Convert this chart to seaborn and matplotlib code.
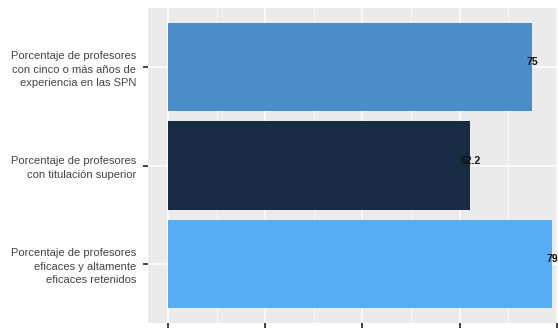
import matplotlib
matplotlib.use("Agg")
import matplotlib.pyplot as plt
import seaborn as sns
import pandas as pd

# data
categorias = [
    "Porcentaje de profesores\ncon cinco o más años de\nexperiencia en las SPN",
    "Porcentaje de profesores\ncon titulación superior",
    "Porcentaje de profesores\neficaces y altamente\neficaces retenidos",
]
valores = [75, 62.2, 79]
colores = ["#4a8dc8", "#172b42", "#55aef2"]

df = pd.DataFrame({"indicador": categorias, "valor": valores})

sns.set_theme(style="darkgrid")
plt.rcParams["font.family"] = ["Liberation Sans", "DejaVu Sans"]

fig = plt.figure(figsize=(5.58, 3.31), dpi=100)
ax = fig.add_axes([148 / 558, 8 / 331, 1 - 148 / 558, 315 / 331])
ax.set_facecolor("#ebebeb")

sns.barplot(data=df, x="valor", y="indicador", hue="indicador",
            palette=colores, orient="h", width=0.9, legend=False,
            saturation=1, linewidth=0, ax=ax, zorder=2)

# value labels centred on the bar end
for i, v in enumerate(valores):
    ax.text(v, i - 0.05, f"{v:g}", ha="center", va="center",
            fontsize=7.5, fontweight="bold", color="#111111", zorder=3)

ax.set_xlim(-4.1, 80.25)
ax.set_ylim(2.6, -0.6)
ax.set_xticks([0, 20, 40, 60, 80])
ax.set_xticks([10, 30, 50, 70], minor=True)
ax.set_xticklabels([])
ax.grid(which="major", color="white", linewidth=1.1, zorder=0)
ax.grid(which="minor", axis="x", color="white", linewidth=0.5, zorder=0)
ax.set_axisbelow(True)
ax.tick_params(axis="both", which="major", length=3.5, width=1.3,
               color="#333333", bottom=True, left=True)
ax.tick_params(axis="x", which="minor", length=0)
ax.tick_params(axis="y", labelsize=8.0, labelcolor="#444444", pad=5)
for lab in ax.get_yticklabels():
    lab.set_horizontalalignment("right")
    lab.set_multialignment("right")
    lab.set_linespacing(1.45)
ax.set_xlabel("")
ax.set_ylabel("")
for s in ax.spines.values():
    s.set_visible(False)

fig.savefig("out.png", dpi=100)
